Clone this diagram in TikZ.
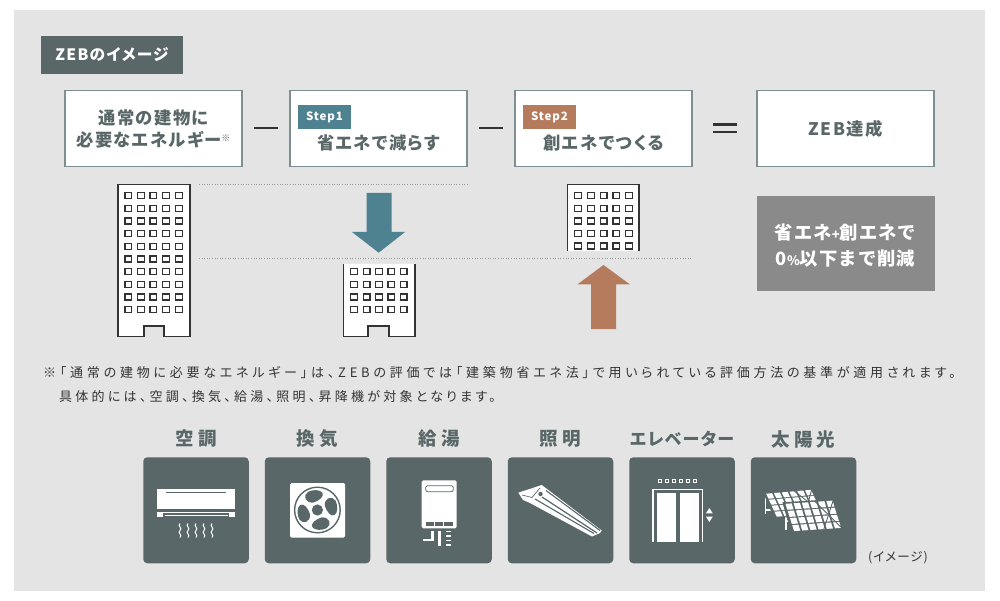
\documentclass[tikz,border=0pt]{standalone}
\usepackage{fontspec}
\setmainfont{Noto Sans CJK JP}
\newfontfamily\jphead[LetterSpace=8,RawFeature=+palt]{Noto Sans CJK JP}
\newfontfamily\jpnote[LetterSpace=25,RawFeature=+palt]{Noto Sans CJK JP}
\newfontfamily\jpwide[LetterSpace=29,RawFeature=+palt]{Noto Sans CJK JP}
\newfontfamily\jptile[LetterSpace=22,RawFeature=+palt]{Noto Sans CJK JP}
\newfontfamily\jpfull[LetterSpace=6]{Noto Sans CJK JP}
\usetikzlibrary{calc}

\definecolor{slate}{HTML}{5A6768}
\definecolor{teal}{HTML}{4F8290}
\definecolor{clay}{HTML}{B57B5D}
\definecolor{edge}{HTML}{7D8F90}
\definecolor{ink}{HTML}{333333}

% windows of a building
\newcommand{\Windows}[2]{
  \foreach \wx in {#1} \foreach \wy in {#2}
    \draw[win] (\wx-3.3,\wy-3) rectangle (\wx+3.3,\wy+3);
}
% one solar panel: corner, top side, left side
\newcommand{\SolarPanel}[6]{
  \fill[slate] (#1-2,#2-1) -- ++(#3+4,#4) -- ++(#5,#6+2) -- ++(-#3-4,-#4) -- cycle;
  \foreach \ci in {0,...,5} \foreach \cj in {0,...,3} {
    \fill[white]
      ($(#1,#2)+{(\ci+.12)/6}*(#3,#4)+{(\cj+.08)/4}*(#5,#6)$) --
      ($(#1,#2)+{(\ci+.88)/6}*(#3,#4)+{(\cj+.08)/4}*(#5,#6)$) --
      ($(#1,#2)+{(\ci+.88)/6}*(#3,#4)+{(\cj+.92)/4}*(#5,#6)$) --
      ($(#1,#2)+{(\ci+.12)/6}*(#3,#4)+{(\cj+.92)/4}*(#5,#6)$) -- cycle;
  }
  \draw[slate,line width=.9pt] ($(#1,#2)+.62*(#3,#4)+(#5,#6)$) -- ($(#1,#2)+(#3,#4)$);
  \draw[slate,line width=.9pt] ($(#1,#2)+.62*(#3,#4)$) -- ($(#1,#2)+(#3,#4)+(#5,#6)$);
}

\begin{document}
\begin{tikzpicture}[x=1pt,y=-1pt]
  \tikzset{
    box/.style = {draw=edge, line width=1.5pt, fill=white, minimum width=177pt,
      minimum height=76pt, inner sep=0pt, align=center, text=slate,
      font=\jphead\fontsize{17.3}{22}\selectfont\bfseries},
    tag/.style = {minimum width=53pt, minimum height=24pt, inner sep=0pt, text=white,
      font=\jphead\fontsize{11.5}{12}\selectfont\bfseries},
    tile/.style = {fill=slate, rounded corners=4pt, minimum width=105.5pt,
      minimum height=106pt, inner sep=0pt},
    tilename/.style = {text=slate, inner sep=0pt, font=\jptile\fontsize{18.5}{20}\selectfont\bfseries},
    note/.style = {anchor=west, inner sep=0pt, text=ink, font=\jpnote\fontsize{13}{15}\selectfont},
    opbar/.style = {draw=ink, line width=2.2pt},
    dots/.style = {draw=gray!80, line width=.8pt, dash pattern=on 1pt off 1.6pt},
    bld/.style = {draw=ink, fill=white, line width=1.1pt},
    win/.style = {draw=ink, line width=1.1pt},
    gap/.style = {slate, line width=1pt},
  }
  \useasboundingbox (0,0) rectangle (1000,601);
  \fill[white] (0,0) rectangle (1000,601);
  \fill[black!10.5] (14,10) rectangle (985,591);

  % Title
  \node[fill=slate, text=white, minimum width=142pt, minimum height=38pt, inner sep=0pt,
    font=\jphead\fontsize{15.7}{16}\selectfont\bfseries] (title) at (112,55) {ZEBのイメージ};

  % Equation
  \node[box] (need) at (153.5,128.5) {通常の建物に\\必要なエネルギー\raisebox{5pt}{\fontsize{9}{9}\selectfont\mdseries ※}};
  \node[box] (step1) at (378.5,128.5) {};
  \node[box] (step2) at (603.5,128.5) {};
  \node[box] (zeb) at (845.5,128.5) {ZEB達成};
  \node[tag, fill=teal] (tag1) at (324.5,117) {Step1};
  \node[tag, fill=clay] (tag2) at (549.5,117) {Step2};
  \node[text=slate, inner sep=0pt, font=\jphead\fontsize{17.3}{18}\selectfont\bfseries] (less) at (378.5,143) {省エネで減らす};
  \node[text=slate, inner sep=0pt, font=\jphead\fontsize{17.3}{18}\selectfont\bfseries] (make) at (603.5,143) {創エネでつくる};
  \draw[opbar] (254,128) -- (278,128);
  \draw[opbar] (479,128) -- (503,128);
  \draw[opbar] (713,124.5) -- (737,124.5);
  \draw[opbar] (713,131.7) -- (737,131.7);

  % Levels
  \draw[dots] (199,184.5) -- (467,184.5);
  \draw[dots] (199,258) -- (691,258);

  % Buildings
  \filldraw[bld] (118,184.5) -- (190,184.5) -- (190,336.5) -- (164,336.5) -- (164,326)
    -- (144,326) -- (144,336.5) -- (118,336.5) -- cycle;
  \Windows{128.3,140.8,153.3,166,179}{195.7,208.4,221,233.7,246.4,259,271.7,284.4,297,309.7}
  \filldraw[bld] (343.5,264) -- (343.5,336.5) -- (368,336.5) -- (368,326) -- (389,326)
    -- (389,336.5) -- (415,336.5) -- (415,264);
  \Windows{354,366.7,379,391.3,403.7}{271.7,284.4,297,309.7}
  \filldraw[bld] (567.7,251.5) -- (567.7,184.5) -- (639,184.5) -- (639,251.5);
  \Windows{578,591,603.7,616.3,629}{195.5,208.2,221,233.4,246}
  \fill[black!10.5] (566,252) rectangle (641,256);

  % Arrows
  \fill[teal] (366.7,193) -- (391.7,193) -- (391.7,232) -- (405,232) -- (378.7,252.7)
    -- (352,232) -- (366.7,232) -- cycle;
  \fill[clay] (591,329) -- (616,329) -- (616,284.5) -- (630,284.5) -- (603.5,265)
    -- (577.3,284.5) -- (591,284.5) -- cycle;

  % Result
  \node[fill=black!46, text=white, minimum width=178pt, minimum height=95pt, inner sep=0pt,
    align=center, font=\jpfull\fontsize{18.3}{26}\selectfont\bfseries] (result) at (845.5,243.5)
    {\rule{0pt}{20pt}省エネ{\fontsize{13}{13}\selectfont+}創エネで\\0{\fontsize{13}{13}\selectfont\%}以下まで削減};

  % Note
  \node[note, font=\jpwide\fontsize{13}{15}\selectfont] (note1) at (43,373) {※「通常の建物に必要なエネルギー」は、ZEBの評価では「建築物省エネ法」で用いられている評価方法の基準が適用されます。};
  \node[note] (note2) at (59,397) {具体的には、空調、換気、給湯、照明、昇降機が対象となります。};

  % Tiles
  \node[tile] (aircon) at (196,510.3) {};
  \node[tile] (fan) at (317.5,510.3) {};
  \node[tile] (heater) at (439,510.3) {};
  \node[tile] (lamp) at (560.5,510.3) {};
  \node[tile] (lift) at (682,510.3) {};
  \node[tile] (solar) at (803.5,510.3) {};
  \node[tilename] (airconname) at (196,439) {空調};
  \node[tilename] (fanname) at (317.5,439) {換気};
  \node[tilename] (heatername) at (439,439) {給湯};
  \node[tilename] (lampname) at (560.5,439) {照明};
  \node[tilename, font=\jphead\fontsize{17}{18}\selectfont\bfseries] (liftname) at (682,439) {エレベーター};
  \node[tilename] (solarname) at (803.5,439) {太陽光};
  \node[inner sep=0pt, text=ink, font=\jphead\fontsize{12.5}{13}\selectfont] (image) at (898,558) {(イメージ)};

  % Air conditioner
  \fill[white] (156.7,489) rectangle (235.3,509.3);
  \draw[gap] (165.7,492) -- (226,492);
  \fill[white] (156.7,511.7) rectangle (235.3,517.3);
  \fill[slate] (163,513.2) rectangle (229,517.5);
  \draw[white,line width=1pt] (165,515.7) -- (228,515.7);
  \foreach \wx in {180,188,196,204,212}
    \draw[white,line width=1pt] (\wx,523.5) .. controls (\wx-3,526) and (\wx+3,528) .. (\wx,530.5)
      .. controls (\wx-3,533) and (\wx+3,535) .. (\wx,537.5);

  % Fan
  \fill[white,rounded corners=1.5pt] (290,483) rectangle (345,537.7);
  \draw[slate,line width=1.4pt] (317.4,510) circle[radius=22.8];
  \fill[slate] (317.4,510) circle[radius=5.6];
  \foreach \ang in {10,100,190,280}
    \fill[slate,shift={(317.4,510)},rotate=\ang] (8,-3) .. controls (9,-11) and (17,-12) .. (19.5,-6)
      .. controls (21,-1) and (20,6) .. (16,8) .. controls (12,9) and (9,4) .. (8,-3) -- cycle;

  % Water heater
  \fill[white,rounded corners=1.5pt] (421.7,480.3) rectangle (456.7,528.3);
  \draw[slate,line width=.8pt,fill=white,rounded corners=2pt] (425.7,485.7) rectangle (453.3,491.7);
  \fill[slate] (425.7,521.7) rectangle (434,525.7);
  \fill[slate] (435.3,521.7) rectangle (442.7,525.7);
  \fill[slate] (444.3,521.7) rectangle (452.7,525.7);
  \draw[white,line width=2.5pt] (432.7,530.5) -- (432.7,540) -- (422.7,540);
  \draw[white,line width=3pt] (439,530.5) -- (439,546);
  \foreach \wy in {531.5,536,540.5,545}
    \fill[white] (445.7,\wy-.9) rectangle (450.7,\wy+.9);

  % Lamp
  \fill[white] (518.3,492.7) -- (541.7,485) -- (601.7,530.5) -- (600,533) -- (592,536.5)
    -- (530,503) -- (523,500) -- cycle;
  \draw[slate,line width=1.1pt] (546,490.5) -- (600,530.5);
  \draw[slate,line width=1.2pt] (542,497) -- (597,533);
  \draw[slate,line width=1.1pt] (535,499) -- (594,533.5);
  \draw[slate,line width=.7pt] (522,495) -- (532,497.5) -- (540,488);
  \fill[slate] (540.5,494) circle[radius=2.2];

  % Elevator
  \foreach \wx in {660,667,674,681,688,695}
    \draw[white,line width=.9pt] (\wx-1.2,481-1.2) rectangle (\wx+1.2,481+1.2);
  \draw[white,line width=1.4pt] (653,542.3) -- (653,489.5) -- (702.3,489.5) -- (702.3,542.3);
  \fill[white] (656.7,493.3) rectangle (675.7,542.3);
  \fill[white] (680,493.3) rectangle (699,542.3);
  \fill[white] (709.3,508) -- (712.7,513.3) -- (706,513.3) -- cycle;
  \fill[white] (709.3,522) -- (712.7,516.7) -- (706,516.7) -- cycle;

  % Solar panels
  \draw[white,line width=1.3pt] (765.5,494) -- (765.5,514) (766,510) -- (782,510);
  \draw[white,line width=1.3pt] (786,504) -- (786,530) (786,521) -- (800,521);
  \SolarPanel{765}{493.3}{46.7}{-4}{11}{24}
  \SolarPanel{784.3}{503.3}{49}{-3.3}{9}{28.4}
\end{tikzpicture}
\end{document}
